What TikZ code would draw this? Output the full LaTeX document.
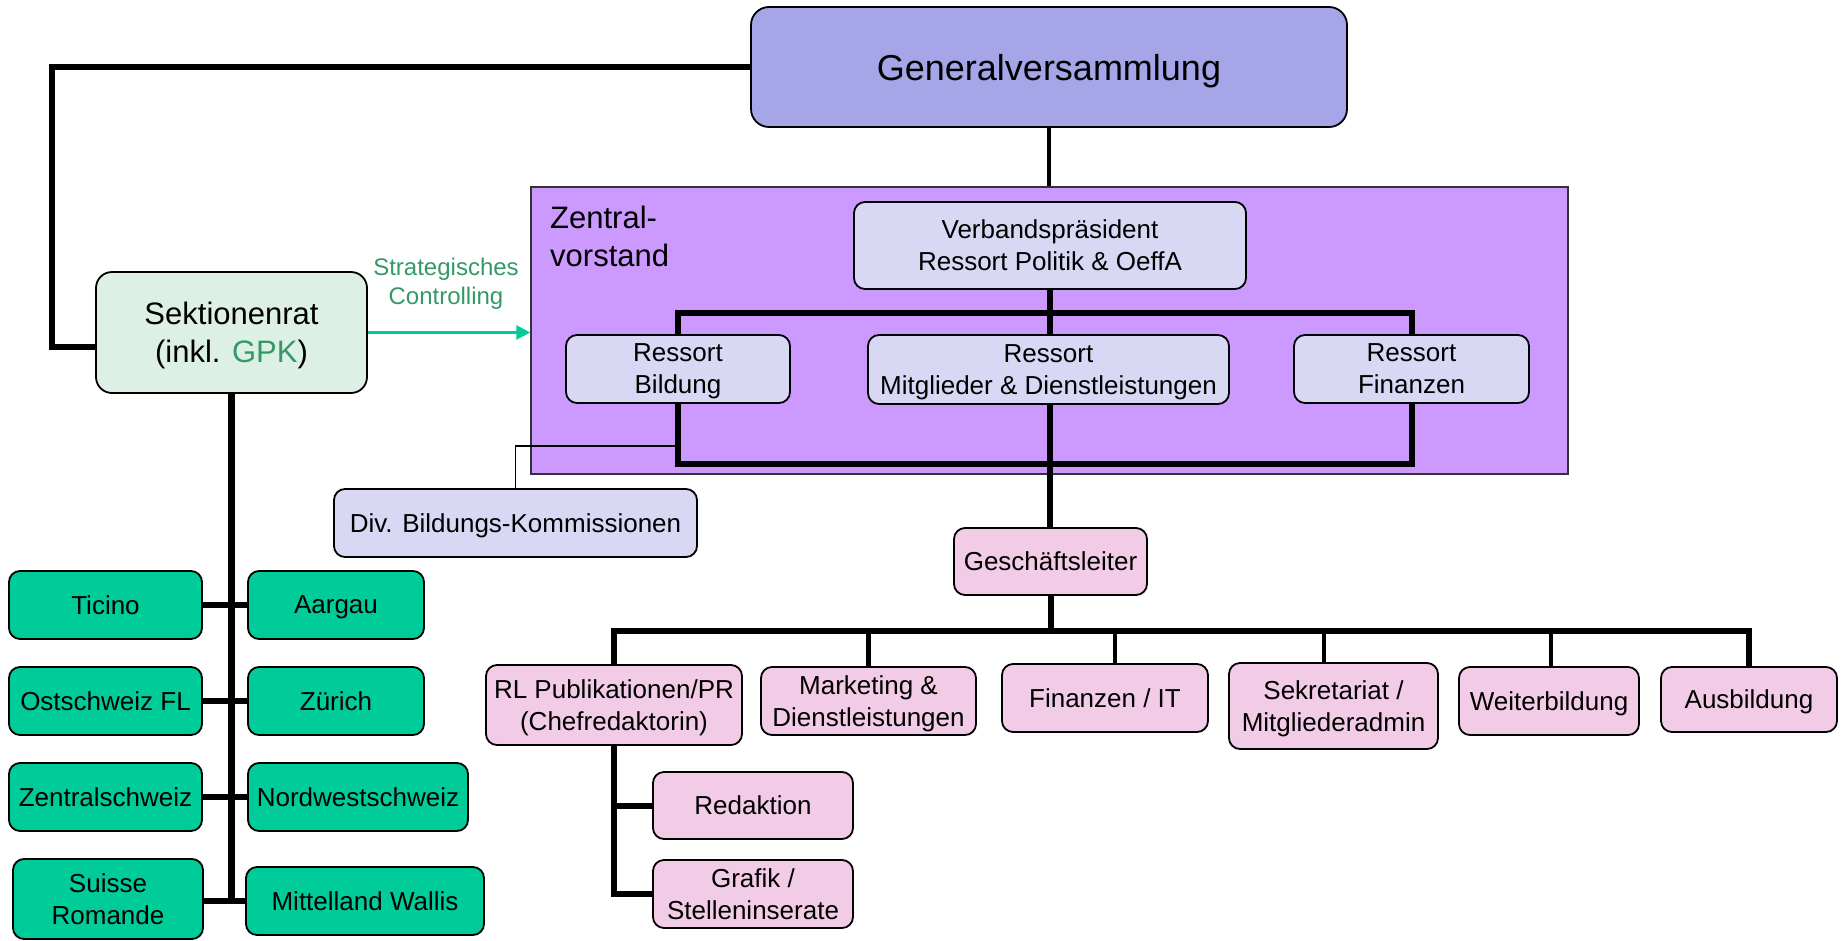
\documentclass[tikz,border=0pt]{standalone}
\usepackage{fontspec}
\setmainfont{Liberation Sans}
\usetikzlibrary{arrows.meta,calc}
\definecolor{gvfill}{RGB}{165,165,232}
\definecolor{zvfill}{RGB}{204,153,255}
\definecolor{lav}{RGB}{216,216,245}
\definecolor{mint}{RGB}{221,240,230}
\definecolor{grn}{RGB}{0,204,153}
\definecolor{pink}{RGB}{242,204,230}
\definecolor{dkgrn}{RGB}{51,153,102}
\newcommand\fsN{\fontsize{26}{32}\selectfont}
\newcommand\fsT{\fontsize{36}{40}\selectfont}
\newcommand\fsL{\fontsize{31}{38}\selectfont}
\newcommand\fsS{\fontsize{24}{29}\selectfont}
\tikzset{
 box/.style={draw=black, line width=1.8pt, rounded corners=11pt, align=center, inner sep=0pt, font=\fsN, text=black, text depth=0pt},
 gvbox/.style={box, fill=gvfill, rounded corners=18pt, font=\fsT},
 lavbox/.style={box, fill=lav},
 grnbox/.style={box, fill=grn},
 pinkbox/.style={box, fill=pink},
 srbox/.style={box, fill=mint, rounded corners=16pt, font=\fsL},
 zvbox/.style={draw=black!80, line width=1.5pt, fill=zvfill, inner sep=0pt},
 bus/.style={line width=6pt, line join=miter},
 stub/.style={line width=4.5pt},
 trunk/.style={line width=7pt},
 medln/.style={line width=4pt},
 thinln/.style={line width=1.5pt},
 ctrl/.style={draw=grn, line width=3pt, -{Triangle[length=14pt,width=14pt]}},
}
\begin{document}
\begin{tikzpicture}[x=1pt,y=-1pt]
\useasboundingbox (0,0) rectangle (1845,940);
\clip (0,0) rectangle (1845,940);

% containers and nodes
\node[zvbox, minimum width=1037pt, minimum height=287pt] (ZV) at (1049.5,330.5) {};
\node[anchor=west, align=left, font=\fsL, inner sep=0pt] (ZVt) at (550,236.5) {Zentral-\\vorstand};

\node[gvbox, minimum width=596pt, minimum height=120pt] (GV) at (1049,67) {Generalversammlung};
\node[lavbox, minimum width=392pt, minimum height=87pt] (VP) at (1050,245.5) {Verbandspräsident\\Ressort Politik \& OeffA};
\node[lavbox, minimum width=224pt, minimum height=68pt] (RB) at (678,369) {Ressort\\Bildung};
\node[lavbox, minimum width=361pt, minimum height=69pt] (RM) at (1048.5,369.5) {Ressort\\Mitglieder \& Dienstleistungen};
\node[lavbox, minimum width=235pt, minimum height=68pt] (RF) at (1411.5,369) {Ressort\\Finanzen};
\node[lavbox, minimum width=363pt, minimum height=68pt] (Div) at (515.5,523) {Div. Bildungs-Kommissionen};

\node[srbox, minimum width=271pt, minimum height=121pt] (SR) at (231.5,332.5) {Sektionenrat\\(inkl. \textcolor{dkgrn}{GPK})};
\node[font=\fsS, text=dkgrn, align=center, inner sep=0pt, text depth=0pt] (SC) at (446,281.5) {Strategisches\\Controlling};

\node[pinkbox, minimum width=193pt, minimum height=67pt] (GL) at (1050.5,561.5) {Geschäftsleiter};
\node[pinkbox, minimum width=256pt, minimum height=80pt] (RL) at (614,705) {RL Publikationen/PR\\(Chefredaktorin)};
\node[pinkbox, minimum width=215pt, minimum height=68pt] (Mkt) at (868.5,701) {Marketing \&\\Dienstleistungen};
\node[pinkbox, minimum width=206pt, minimum height=68pt] (FIT) at (1105,698) {Finanzen / IT};
\node[pinkbox, minimum width=209pt, minimum height=86pt] (Sek) at (1333.5,706) {Sekretariat /\\Mitgliederadmin};
\node[pinkbox, minimum width=180pt, minimum height=68pt] (WB) at (1549,701) {Weiterbildung};
\node[pinkbox, minimum width=176pt, minimum height=65pt] (AB) at (1749,699.5) {Ausbildung};
\node[pinkbox, minimum width=200pt, minimum height=67pt] (Red) at (753,805.5) {Redaktion};
\node[pinkbox, minimum width=200pt, minimum height=68pt] (Graf) at (753,894) {Grafik /\\Stelleninserate};

\node[grnbox, minimum width=193pt, minimum height=68pt] (Tic) at (105.5,605) {Ticino};
\node[grnbox, minimum width=176pt, minimum height=68pt] (Aar) at (336,605) {Aargau};
\node[grnbox, minimum width=193pt, minimum height=68pt] (Ost) at (105.5,701) {Ostschweiz FL};
\node[grnbox, minimum width=176pt, minimum height=68pt] (Zur) at (336,701) {Zürich};
\node[grnbox, minimum width=193pt, minimum height=68pt] (Zen) at (105.5,797) {Zentralschweiz};
\node[grnbox, minimum width=220pt, minimum height=68pt] (NWS) at (358,797) {Nordwestschweiz};
\node[grnbox, minimum width=190pt, minimum height=80pt] (SRo) at (108,899) {Suisse\\Romande};
\node[grnbox, minimum width=238pt, minimum height=68pt] (MW) at (365,901) {Mittelland Wallis};

% bus coordinates
\coordinate (lc) at (52,347);
\coordinate (tb) at (0,313);
\coordinate (bb) at (0,464);
\coordinate (dv) at (0,446);
\coordinate (gb) at (0,631);
\coordinate (tt) at (0,903);

% connectors
\draw[bus] (GV.west) -| (lc) -- (lc -| SR.west);
\draw[medln] (GV.south) -- (GV.south |- ZV.north);
\draw[bus] (VP.south) -- (VP.south |- RM.north);
\draw[bus] (RB.north) -- (RB.north |- tb) -- (RF.north |- tb) -- (RF.north);
\draw[bus] (RB.south) -- (RB.south |- bb) -- (RF.south |- bb) -- (RF.south);
\draw[bus] (VP.south |- RM.south) -- (VP.south |- GL.north);
\draw[thinln] (RB.south |- dv) -| (Div.north);

\draw[ctrl] (SR.east) -- (SR.east -| ZV.west);

\draw[trunk] (SR.south) -- (SR.south |- tt);
\draw[bus] (Tic.east) -- (Aar.west);
\draw[bus] (Ost.east) -- (Zur.west);
\draw[bus] (Zen.east) -- (NWS.west);
\draw[bus] (SRo.east |- MW.west) -- (MW.west);

\draw[bus] (GL.south) -- (GL.south |- gb);
\draw[bus] (RL.north) -- (RL.north |- gb) -- (AB.north |- gb) -- (AB.north);
\draw[stub] (Mkt.north |- gb) -- (Mkt.north);
\draw[stub] ([xshift=10pt]FIT.north |- gb) -- ([xshift=10pt]FIT.north);
\draw[stub] ([xshift=-9.5pt]Sek.north |- gb) -- ([xshift=-9.5pt]Sek.north);
\draw[stub] ([xshift=2pt]WB.north |- gb) -- ([xshift=2pt]WB.north);

\draw[bus] (RL.south) -- (RL.south |- Graf.west) -- (Graf.west);
\draw[bus] (RL.south |- Red.west) -- (Red.west);
\end{tikzpicture}
\end{document}
